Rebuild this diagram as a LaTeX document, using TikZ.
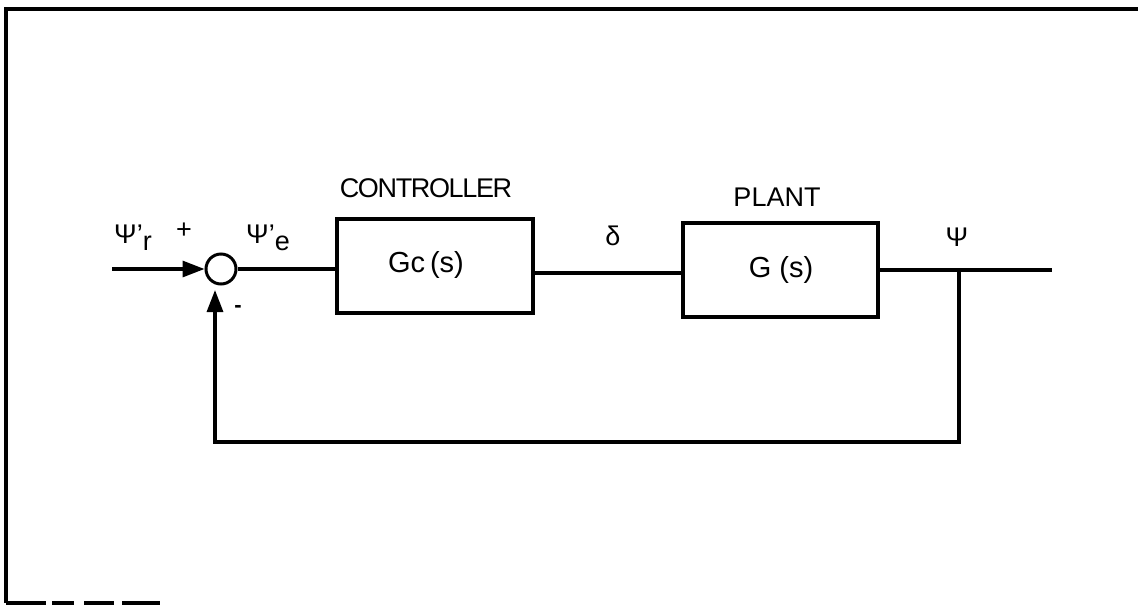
\documentclass[tikz,border=0pt]{standalone}
\usepackage{fontspec}
\setmainfont{Liberation Sans}
\usetikzlibrary{arrows.meta}
\begin{document}
\begin{tikzpicture}[x=1pt,y=-1pt,
  wire/.style={line width=3.2pt},
  blockbox/.style={draw,line width=3.4pt,minimum width=196pt,minimum height=94pt,inner sep=0pt},
  sumnode/.style={draw,circle,line width=3pt,minimum size=30pt,inner sep=0pt},
  lbl/.style={inner sep=0pt,font=\fontsize{27}{30}\selectfont},
  arr/.style={-{Triangle[length=22pt,width=16pt]}}
]
\useasboundingbox (0,0) rectangle (1138,606);
% frame
\coordinate (f1) at (6,603);
\coordinate (f2) at (6,9);
\coordinate (f3) at (1138,9);
\draw[line width=3.4pt] (f1) -- (f2) -- (f3);
\coordinate (b1) at (6,603);
\coordinate (b2) at (160,603);
\draw[line width=3.4pt,dash pattern=on 40pt off 6pt on 22pt off 10pt on 30pt off 8pt] (b1) -- (b2);

% blocks
\node[sumnode] (sum) at (221,269) {};
\node[blockbox] (ctrl) at (435,266) {};
\node[blockbox,minimum width=195pt] (plant) at (780.5,270) {};

% inner texts
\node[lbl,font=\fontsize{29}{32}\selectfont] (gc) at (426,265) {Gc\,(s)};
\node[lbl,font=\fontsize{29}{32}\selectfont] (g) at (781,270) {G (s)};
\node[lbl] (ctrllbl) at (426,188) {\addfontfeatures{LetterSpace=-5}CONTROLLER};
\node[lbl] (plantlbl) at (777,197) {PLANT};

% signal labels
\node[lbl] (psir) at (133,238) {Ψ'\raisebox{-0.5ex}{r}};
\node[lbl] (plus) at (184,231) {+};
\node[lbl] (psie) at (268,238) {Ψ'\raisebox{-0.5ex}{e}};
\node[lbl] (delta) at (613,236) {δ};
\node[lbl] (psi) at (957,237) {Ψ};
\node[lbl,font=\fontsize{22}{24}\selectfont\bfseries] (minus) at (238,309) {-};

% connectors
\coordinate (in) at (112,269);
\draw[wire,arr] (in) -- (sum.west);
\draw[wire] (sum.east) -- (sum.east -| ctrl.west);
\coordinate (m1) at (533,273);
\draw[wire] (ctrl.east |- m1) -- (m1 -| plant.west);
\coordinate (out) at (1052,270);
\coordinate (br) at (959,270);
\draw[wire] (plant.east) -- (out);
\coordinate (fb1) at (959,442);
\coordinate (fb2) at (215,442);
\coordinate (fbtip) at (215,290);
\draw[wire,arr] (br) -- (fb1) -- (fb2) -- (fbtip);
\end{tikzpicture}
\end{document}
